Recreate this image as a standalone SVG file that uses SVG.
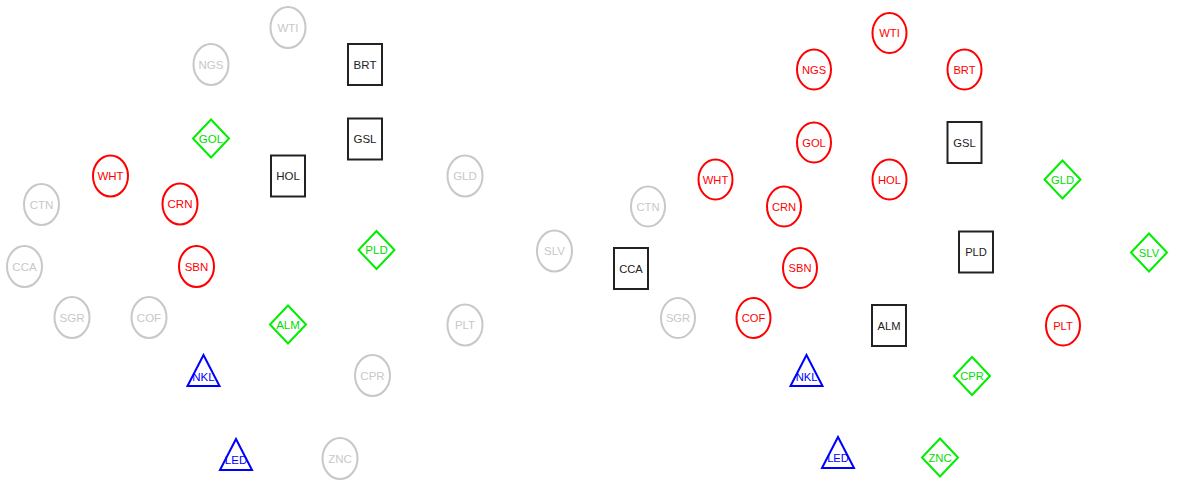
<svg xmlns="http://www.w3.org/2000/svg" width="1183" height="480" viewBox="0 0 1183 480">
<style>
text{font-family:"Liberation Sans",Arial,sans-serif;font-size:11.5px;text-anchor:middle;dominant-baseline:central}
.r text{font-size:11.2px}
.s{fill:#fff;stroke-width:2}
.grey .s{stroke:#c8c8c8}.grey text{fill:#c8c8c8}
.red .s{stroke:#ff0000}.red text{fill:#ff0000}
.green .s{stroke:#00ee00}.green text{fill:#00dd00}
.blue .s{stroke:#0000ff}.blue text{fill:#0000ff}
.black .s{stroke:#222}.black text{fill:#222}
</style>
<defs>
<ellipse id="el" class="s" cx="0" cy="0" rx="17.5" ry="20.5"/>
<ellipse id="er" class="s" cx="0" cy="0" rx="17" ry="20"/>
<rect id="rl" x="-17" y="-20.5" width="34" height="41"/>
<polygon id="dm" points="0,-19 18,0 0,19 -18,0"/>
<polygon id="tr" points="0,-31 16,0 -16,0"/>
</defs>
<g id="connectors"></g>
<g id="left">
<g id="L-WTI" class="grey" transform="translate(288,27.5)"><ellipse class="s" rx="17.5" ry="20.5"/><text>WTI</text></g>
<g id="L-NGS" class="grey" transform="translate(211,64.5)"><ellipse class="s" rx="17.5" ry="20.5"/><text>NGS</text></g>
<g id="L-BRT" class="black" transform="translate(365,64.5)"><rect class="s" x="-17" y="-20.5" width="34" height="41"/><text>BRT</text></g>
<g id="L-GSL" class="black" transform="translate(365,139)"><rect class="s" x="-17" y="-20.5" width="34" height="41"/><text>GSL</text></g>
<g id="L-GOL" class="green" transform="translate(211,138.5)"><polygon class="s" points="0,-19 18,0 0,19 -18,0"/><text>GOL</text></g>
<g id="L-HOL" class="black" transform="translate(288,176)"><rect class="s" x="-17" y="-20.5" width="34" height="41"/><text>HOL</text></g>
<g id="L-GLD" class="grey" transform="translate(465,176)"><ellipse class="s" rx="17.5" ry="20.5"/><text>GLD</text></g>
<g id="L-WHT" class="red" transform="translate(110.5,176)"><ellipse class="s" rx="17.5" ry="20.5"/><text>WHT</text></g>
<g id="L-CRN" class="red" transform="translate(180,204)"><ellipse class="s" rx="17.5" ry="20.5"/><text>CRN</text></g>
<g id="L-CTN" class="grey" transform="translate(41.5,204.5)"><ellipse class="s" rx="17.5" ry="20.5"/><text>CTN</text></g>
<g id="L-CCA" class="grey" transform="translate(24.5,266.5)"><ellipse class="s" rx="17.5" ry="20.5"/><text>CCA</text></g>
<g id="L-SBN" class="red" transform="translate(196.5,266.5)"><ellipse class="s" rx="17.5" ry="20.5"/><text>SBN</text></g>
<g id="L-PLD" class="green" transform="translate(376.5,250)"><polygon class="s" points="0,-19 18,0 0,19 -18,0"/><text>PLD</text></g>
<g id="L-SLV" class="grey" transform="translate(554.5,251)"><ellipse class="s" rx="17.5" ry="20.5"/><text>SLV</text></g>
<g id="L-SGR" class="grey" transform="translate(72,317.5)"><ellipse class="s" rx="17.5" ry="20.5"/><text>SGR</text></g>
<g id="L-COF" class="grey" transform="translate(149,317.5)"><ellipse class="s" rx="17.5" ry="20.5"/><text>COF</text></g>
<g id="L-ALM" class="green" transform="translate(288,324.5)"><polygon class="s" points="0,-19 18,0 0,19 -18,0"/><text>ALM</text></g>
<g id="L-PLT" class="grey" transform="translate(465,325)"><ellipse class="s" rx="17.5" ry="20.5"/><text>PLT</text></g>
<g id="L-CPR" class="grey" transform="translate(372.5,375.5)"><ellipse class="s" rx="17.5" ry="20.5"/><text>CPR</text></g>
<g id="L-NKL" class="blue" transform="translate(203.5,386)"><polygon class="s" points="0,-31 16,0 -16,0"/><text y="-9">NKL</text></g>
<g id="L-LED" class="blue" transform="translate(236,470)"><polygon class="s" points="0,-31 16,0 -16,0"/><text y="-10">LED</text></g>
<g id="L-ZNC" class="grey" transform="translate(340,458.5)"><ellipse class="s" rx="17.5" ry="20.5"/><text>ZNC</text></g>
</g>
<g id="right" class="r">
<g id="R-WTI" class="red" transform="translate(889.5,33)"><ellipse class="s" rx="17" ry="20"/><text>WTI</text></g>
<g id="R-NGS" class="red" transform="translate(814,69.5)"><ellipse class="s" rx="17" ry="20"/><text>NGS</text></g>
<g id="R-BRT" class="red" transform="translate(964.5,69.5)"><ellipse class="s" rx="17" ry="20"/><text>BRT</text></g>
<g id="R-GSL" class="black" transform="translate(964.5,142.5)"><rect class="s" x="-17" y="-20.5" width="34" height="41"/><text>GSL</text></g>
<g id="R-GOL" class="red" transform="translate(814,142.5)"><ellipse class="s" rx="17" ry="20"/><text>GOL</text></g>
<g id="R-HOL" class="red" transform="translate(889.5,179.5)"><ellipse class="s" rx="17" ry="20"/><text>HOL</text></g>
<g id="R-WHT" class="red" transform="translate(715.5,179.5)"><ellipse class="s" rx="17" ry="20"/><text>WHT</text></g>
<g id="R-CRN" class="red" transform="translate(784,206.5)"><ellipse class="s" rx="17" ry="20"/><text>CRN</text></g>
<g id="R-CTN" class="grey" transform="translate(648,206.5)"><ellipse class="s" rx="17" ry="20"/><text>CTN</text></g>
<g id="R-GLD" class="green" transform="translate(1062.5,179.5)"><polygon class="s" points="0,-19 18,0 0,19 -18,0"/><text>GLD</text></g>
<g id="R-CCA" class="black" transform="translate(631,268.5)"><rect class="s" x="-17" y="-20.5" width="34" height="41"/><text>CCA</text></g>
<g id="R-SBN" class="red" transform="translate(800,268)"><ellipse class="s" rx="17" ry="20"/><text>SBN</text></g>
<g id="R-PLD" class="black" transform="translate(976,252)"><rect class="s" x="-17" y="-20.5" width="34" height="41"/><text>PLD</text></g>
<g id="R-SLV" class="green" transform="translate(1149,252.5)"><polygon class="s" points="0,-19 18,0 0,19 -18,0"/><text>SLV</text></g>
<g id="R-SGR" class="grey" transform="translate(678,318)"><ellipse class="s" rx="17" ry="20"/><text>SGR</text></g>
<g id="R-COF" class="red" transform="translate(753.5,318)"><ellipse class="s" rx="17" ry="20"/><text>COF</text></g>
<g id="R-ALM" class="black" transform="translate(889,325.5)"><rect class="s" x="-17" y="-20.5" width="34" height="41"/><text>ALM</text></g>
<g id="R-PLT" class="red" transform="translate(1063,325.5)"><ellipse class="s" rx="17" ry="20"/><text>PLT</text></g>
<g id="R-CPR" class="green" transform="translate(972,376)"><polygon class="s" points="0,-19 18,0 0,19 -18,0"/><text>CPR</text></g>
<g id="R-NKL" class="blue" transform="translate(806.5,386)"><polygon class="s" points="0,-31 16,0 -16,0"/><text y="-9">NKL</text></g>
<g id="R-LED" class="blue" transform="translate(838,468)"><polygon class="s" points="0,-31 16,0 -16,0"/><text y="-10">LED</text></g>
<g id="R-ZNC" class="green" transform="translate(940,457.5)"><polygon class="s" points="0,-19 18,0 0,19 -18,0"/><text>ZNC</text></g>
</g>
</svg>
